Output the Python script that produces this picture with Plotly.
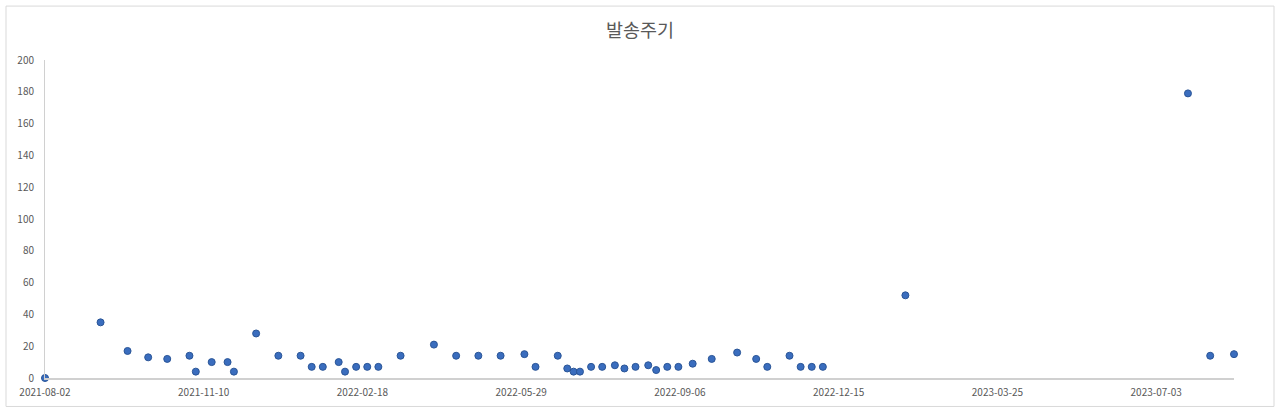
import plotly.graph_objects as go

dates = [
    "2021-08-02", "2021-09-06", "2021-09-23", "2021-10-06", "2021-10-18",
    "2021-11-01", "2021-11-05", "2021-11-15", "2021-11-25", "2021-11-29",
    "2021-12-13", "2021-12-27", "2022-01-10", "2022-01-17", "2022-01-24",
    "2022-02-03", "2022-02-07", "2022-02-14", "2022-02-21", "2022-02-28",
    "2022-03-14", "2022-04-04", "2022-04-18", "2022-05-02", "2022-05-16",
    "2022-05-31", "2022-06-07", "2022-06-21", "2022-06-27", "2022-07-01",
    "2022-07-05", "2022-07-12", "2022-07-19", "2022-07-27", "2022-08-02",
    "2022-08-09", "2022-08-17", "2022-08-22", "2022-08-29", "2022-09-05",
    "2022-09-14", "2022-09-26", "2022-10-12", "2022-10-24", "2022-10-31",
    "2022-11-14", "2022-11-21", "2022-11-28", "2022-12-05", "2023-01-26",
    "2023-07-23", "2023-08-06", "2023-08-21",
]
values = [
    0, 35, 17, 13, 12,
    14, 4, 10, 10, 4,
    28, 14, 14, 7, 7,
    10, 4, 7, 7, 7,
    14, 21, 14, 14, 14,
    15, 7, 14, 6, 4,
    4, 7, 7, 8, 6,
    7, 8, 5, 7, 7,
    9, 12, 16, 12, 7,
    14, 7, 7, 7, 52,
    179, 14, 15,
]
x_ticks = ["2021-08-02", "2021-11-10", "2022-02-18", "2022-05-29",
           "2022-09-06", "2022-12-15", "2023-03-25", "2023-07-03"]
y_ticks = [0, 20, 40, 60, 80, 100, 120, 140, 160, 180, 200]
title_text = "발송주기"

fig = go.Figure()
fig.add_trace(go.Scatter(
    x=dates, y=values, mode="markers",
    marker=dict(size=7, color="#3A6DBE", line=dict(color="#2A5597", width=1)),
    showlegend=False, cliponaxis=False,
))

font_family = "Noto Sans CJK KR, Noto Sans, sans-serif"
W, H = 1280, 415
L, R, T, B = 45, 46, 60, 36.5
pw, ph = W - L - R, H - T - B
fig.update_layout(
    width=W, height=H,
    margin=dict(l=L, r=R, t=T, b=B, pad=0),
    paper_bgcolor="white", plot_bgcolor="white",
    title=dict(text=title_text, x=0.5, xanchor="center", y=1 - 31 / H,
               yanchor="middle",
               font=dict(size=18.5, color="#595959", family=font_family)),
    font=dict(family=font_family, color="#595959", size=10),
    xaxis=dict(
        type="date", range=["2021-08-02", "2023-08-21"],
        tickvals=x_ticks, ticktext=x_ticks,
        showgrid=False, zeroline=False,
        showline=True, linecolor="#D0D0D0", linewidth=1.5,
        ticks="outside", ticklen=4, tickcolor="rgba(0,0,0,0)",
        tickfont=dict(size=10, color="#595959"),
    ),
    yaxis=dict(
        range=[0, 200], tickvals=y_ticks,
        showgrid=False, zeroline=False,
        showline=True, linecolor="#D0D0D0", linewidth=1,
        ticks="outside", ticklen=8, tickcolor="rgba(0,0,0,0)",
        tickfont=dict(size=10, color="#595959"),
    ),
    shapes=[dict(type="rect", xref="paper", yref="paper",
                 x0=(6 - L) / pw, x1=(1274 - L) / pw,
                 y0=(H - B - 407) / ph, y1=(H - B - 6) / ph,
                 line=dict(color="#D9D9D9", width=1), layer="below")],
)

fig.write_html(
    "out.html",
    config={"displayModeBar": False},
    post_script="document.body.style.margin='0';document.body.style.overflow='hidden';",
)
